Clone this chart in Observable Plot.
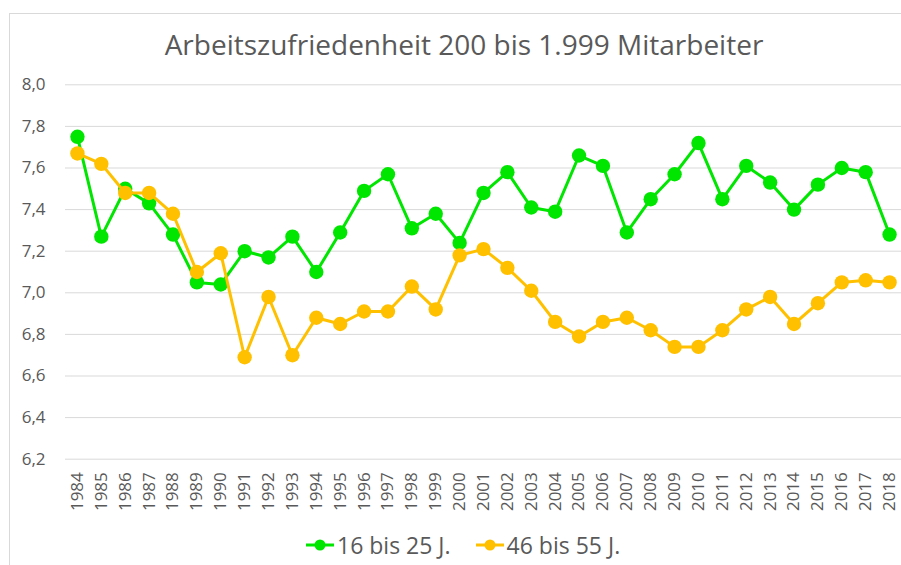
<!DOCTYPE html>
<html>
<head>
<meta charset="utf-8">
<script src="https://cdn.jsdelivr.net/npm/d3@7"></script>
<script src="https://cdn.jsdelivr.net/npm/@observablehq/plot@0.6"></script>
<style>
  html, body { margin: 0; padding: 0; background: #fff; overflow: hidden; }
  #wrap { position: relative; width: 901px; height: 565px; font-family: "Open Sans", sans-serif; color: #595959; background: #fff; }
  #border { position: absolute; left: 9px; top: 13px; width: 1000px; height: 1000px; border: 1px solid #d9d9d9; box-sizing: border-box; z-index: 5; pointer-events: none; }
  #title { position: relative; height: 70px; box-sizing: border-box; padding-top: 26px; padding-left: 27px; width: 901px; text-align: center; font-size: 28px; line-height: 36px; white-space: nowrap; }
  #chart { position: relative; height: 455px; }
  #chart svg { background: transparent !important; }
  #legend { position: relative; height: 40px; display: flex; align-items: center; padding-left: 306px; font-size: 23px; }
  .item { display: flex; align-items: center; }
  .item svg { display: block; margin-right: 3px; }
  .item + .item { margin-left: 25px; }
</style>
</head>
<body>
<div id="wrap">
  <div id="border"></div>
  <div id="title">Arbeitszufriedenheit 200 bis 1.999 Mitarbeiter</div>
  <div id="chart"></div>
  <div id="legend"></div>
</div>
<script>
const years = [1984,1985,1986,1987,1988,1989,1990,1991,1992,1993,1994,1995,1996,1997,1998,1999,2000,2001,2002,2003,2004,2005,2006,2007,2008,2009,2010,2011,2012,2013,2014,2015,2016,2017,2018];
const young = [7.75,7.27,7.50,7.43,7.28,7.05,7.04,7.20,7.17,7.27,7.10,7.29,7.49,7.57,7.31,7.38,7.24,7.48,7.58,7.41,7.39,7.66,7.61,7.29,7.45,7.57,7.72,7.45,7.61,7.53,7.40,7.52,7.60,7.58,7.28];
const older = [7.67,7.62,7.48,7.48,7.38,7.10,7.19,6.69,6.98,6.70,6.88,6.85,6.91,6.91,7.03,6.92,7.18,7.21,7.12,7.01,6.86,6.79,6.86,6.88,6.82,6.74,6.74,6.82,6.92,6.98,6.85,6.95,7.05,7.06,7.05];
const seriesNames = ["16 bis 25 J.", "46 bis 55 J."];
const seriesColors = ["#00e600", "#ffc000"];
const yTicks = [6.2,6.4,6.6,6.8,7.0,7.2,7.4,7.6,7.8,8.0];

const dYoung = years.map((y, i) => ({year: String(y), value: young[i]}));
const dOlder = years.map((y, i) => ({year: String(y), value: older[i]}));

const chart = Plot.plot({
  width: 901,
  height: 455,
  marginLeft: 65,
  marginRight: 0,
  marginTop: 14.3,
  marginBottom: 66.3,
  style: {fontFamily: "Open Sans, sans-serif", fontSize: "17px", color: "#595959", background: "transparent"},
  x: {type: "point", domain: years.map(String), padding: 0.5, align: 0.5, label: null, tickSize: 0, tickPadding: 13, tickRotate: -90},
  y: {domain: [6.2, 8.0], ticks: yTicks, tickFormat: d => d.toFixed(1).replace(".", ","), label: null, tickSize: 0, tickPadding: 20},
  marks: [
    Plot.ruleY(yTicks, {stroke: "#d9d9d9", strokeWidth: 1}),
    Plot.line(dYoung, {x: "year", y: "value", stroke: seriesColors[0], strokeWidth: 3}),
    Plot.dot(dYoung, {x: "year", y: "value", fill: seriesColors[0], r: 7.2}),
    Plot.line(dOlder, {x: "year", y: "value", stroke: seriesColors[1], strokeWidth: 3}),
    Plot.dot(dOlder, {x: "year", y: "value", fill: seriesColors[1], r: 7.2})
  ]
});
document.getElementById("chart").appendChild(chart);

const legend = document.getElementById("legend");
seriesNames.forEach((name, i) => {
  const item = document.createElement("div");
  item.className = "item";
  item.innerHTML = `<svg width="28" height="14"><line x1="0" y1="7" x2="28" y2="7" stroke="${seriesColors[i]}" stroke-width="3"/><circle cx="14" cy="7" r="5.5" fill="${seriesColors[i]}"/></svg><span>${name}</span>`;
  legend.appendChild(item);
});
</script>
</body>
</html>
